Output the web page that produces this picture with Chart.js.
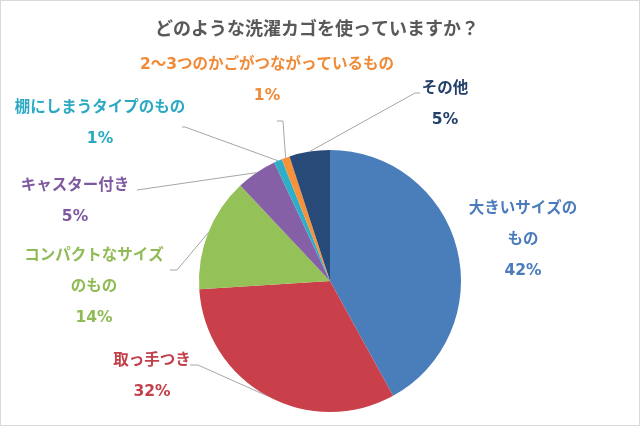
<!DOCTYPE html>
<html>

<head>
    <title>洗濯カゴ アンケート</title>
    <script src="https://cdn.jsdelivr.net/npm/chart.js"></script>
    <style>
        body {
            margin: 0;
            background: #ffffff;
        }

        .chart-container {
            width: 640px;
            height: 426px;
        }
    </style>
</head>

<body>
    <div class="chart-container">
        <canvas id="basketChart"></canvas>
    </div>

    <script>
        // data, clockwise from 12 o'clock
        const chartTitle = "どのような洗濯カゴを使っていますか？";
        const categories = ["大きいサイズのもの", "取っ手つき", "コンパクトなサイズのもの", "キャスター付き",
            "棚にしまうタイプのもの", "2～3つのかごがつながっているもの", "その他"];
        const percents = [42, 32, 14, 5, 1, 1, 5];

        const sliceColors = ["#4a7ebb", "#c9404a", "#95c159", "#8660a6", "#2eaec7", "#f7923a", "#284a78"];
        const textColors = ["#4a7bba", "#c2404a", "#8fbb55", "#7e58a0", "#2ba9c3", "#f08a37", "#22406b"];

        // how each label is broken into lines
        const labelLines = [["大きいサイズの", "もの"], ["取っ手つき"], ["コンパクトなサイズ", "のもの"], ["キャスター付き"],
            ["棚にしまうタイプのもの"], ["2～3つのかごがつながっているもの"], ["その他"]];

        // label centre (first line) and leader line bend / tail
        const labelPos = [
            { x: 523, y: 209, leader: null },
            { x: 152, y: 361, leader: [[198, 365], [190, 365]] },
            { x: 94, y: 256, leader: [[177, 270], [170, 270]] },
            { x: 75, y: 186, leader: [[137, 190]] },
            { x: 100, y: 108, leader: [[185, 127], [182, 127]] },
            { x: 267, y: 65, leader: [[283, 121], [277, 121]] },
            { x: 445, y: 89, leader: [[415, 93], [420, 93]] }
        ];
        const lineGap = 31;
        const jpFont = '"DejaVu Sans", "Noto Sans CJK JP", sans-serif';

        const pieLabels = {
            id: "pieLabels",
            beforeDraw(chart) {
                const ctx = chart.ctx;
                ctx.save();
                ctx.strokeStyle = "#d9d9d9";
                ctx.lineWidth = 1;
                ctx.strokeRect(0.5, 0.5, chart.width - 1, chart.height - 1);
                ctx.restore();
            },
            afterDraw(chart) {
                const ctx = chart.ctx;
                const arcs = chart.getDatasetMeta(0).data;
                ctx.save();

                // title
                ctx.font = 'bold 18px "Noto Sans CJK JP", sans-serif';
                ctx.fillStyle = "#595959";
                ctx.textAlign = "center";
                ctx.textBaseline = "middle";
                ctx.fillText(chartTitle, 317, 28);

                // leader lines
                ctx.strokeStyle = "#a6a6a6";
                ctx.lineWidth = 1;
                arcs.forEach((arc, i) => {
                    const pos = labelPos[i];
                    if (!pos.leader) return;
                    const a = (arc.startAngle + arc.endAngle) / 2;
                    ctx.beginPath();
                    ctx.moveTo(arc.x + Math.cos(a) * arc.outerRadius, arc.y + Math.sin(a) * arc.outerRadius);
                    pos.leader.forEach(p => ctx.lineTo(p[0], p[1]));
                    ctx.stroke();
                });

                // label texts + percentages
                ctx.font = "bold 15.5px " + jpFont;
                arcs.forEach((arc, i) => {
                    const pos = labelPos[i];
                    ctx.fillStyle = textColors[i];
                    const lines = labelLines[i].concat([percents[i] + "%"]);
                    lines.forEach((t, k) => ctx.fillText(t, pos.x, pos.y + k * lineGap));
                });
                ctx.restore();
            }
        };

        const ctx = document.getElementById("basketChart").getContext("2d");
        new Chart(ctx, {
            type: "pie",
            data: {
                labels: categories,
                datasets: [{
                    data: percents,
                    backgroundColor: sliceColors,
                    borderWidth: 0,
                    hoverOffset: 0
                }]
            },
            options: {
                responsive: true,
                maintainAspectRatio: false,
                animation: false,
                events: [],
                layout: {
                    padding: { left: 199, right: 179, top: 150, bottom: 14 }
                },
                plugins: {
                    legend: { display: false },
                    tooltip: { enabled: false },
                    title: { display: false }
                }
            },
            plugins: [pieLabels]
        });
    </script>
</body>

</html>
